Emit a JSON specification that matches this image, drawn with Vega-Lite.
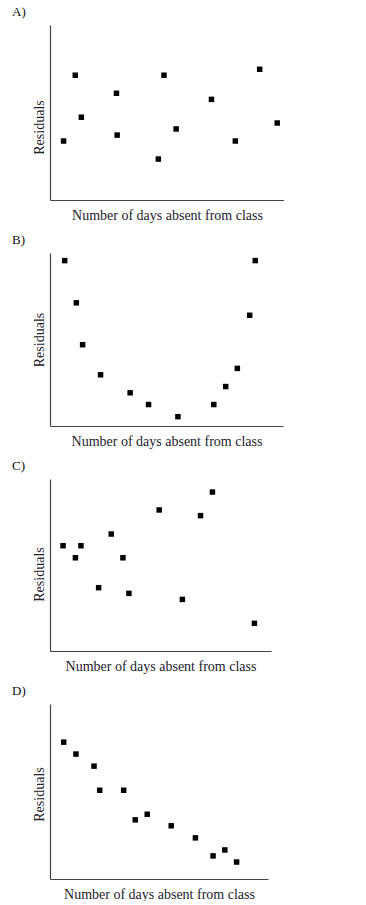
{
  "$schema": "https://vega.github.io/schema/vega-lite/v6.json",
  "padding": {"left": 12, "top": 6, "right": 0, "bottom": 0},
  "background": "white",
  "datasets": {
    "A": [{"x":5.8,"y":33.7},{"x":10.8,"y":71.3},{"x":13.4,"y":47.3},{"x":28.4,"y":61},{"x":28.7,"y":37.1},{"x":46.3,"y":23.4},{"x":48.7,"y":71.3},{"x":53.9,"y":40.6},{"x":69,"y":57.5},{"x":79.2,"y":33.7},{"x":89.6,"y":74.7},{"x":97.1,"y":44}],
    "B": [{"x":6.3,"y":95.6},{"x":11.3,"y":71.2},{"x":14,"y":47},{"x":21.7,"y":29.6},{"x":34.4,"y":19.2},{"x":42.3,"y":12.4},{"x":54.9,"y":5.4},{"x":70.3,"y":12.4},{"x":75.4,"y":22.8},{"x":80.4,"y":33.3},{"x":85.7,"y":64},{"x":88.1,"y":95.6}],
    "C": [{"x":5.9,"y":61.2},{"x":11.5,"y":54.2},{"x":14,"y":61.2},{"x":22,"y":36.8},{"x":27.7,"y":68},{"x":33,"y":54.2},{"x":35.7,"y":33.5},{"x":49.4,"y":82},{"x":59.9,"y":30},{"x":68.1,"y":78.7},{"x":73.5,"y":92.4},{"x":92.5,"y":16.1}],
    "D": [{"x":6.3,"y":78.2},{"x":11.9,"y":71.4},{"x":20.2,"y":64.5},{"x":22.8,"y":50.7},{"x":33.8,"y":50.7},{"x":39.1,"y":33.8},{"x":44.6,"y":37},{"x":55.6,"y":30.4},{"x":66.7,"y":23.5},{"x":74.8,"y":13.2},{"x":80.2,"y":16.6},{"x":85.6,"y":9.7}]
  },
  "vconcat": [
    {
      "data": {"name": "A"},
      "width": 234, "height": 175,
      "title": {"text": "A)", "anchor": "start", "frame": "group", "dx": -38, "offset": 6},
      "mark": {"type": "point", "shape": "square", "filled": true, "color": "black", "size": 30, "opacity": 1},
      "encoding": {
        "x": {"field": "x", "type": "quantitative", "scale": {"domain": [0, 100], "nice": false, "zero": false}, "axis": {"title": "Number of days absent from class"}},
        "y": {"field": "y", "type": "quantitative", "scale": {"domain": [0, 100], "nice": false, "zero": false}, "axis": {"title": "Residuals", "titleY": 102}}
      }
    },
    {
      "data": {"name": "B"},
      "width": 233, "height": 173,
      "title": {"text": "B)", "anchor": "start", "frame": "group", "dx": -38, "offset": 6},
      "mark": {"type": "point", "shape": "square", "filled": true, "color": "black", "size": 30, "opacity": 1},
      "encoding": {
        "x": {"field": "x", "type": "quantitative", "scale": {"domain": [0, 100], "nice": false, "zero": false}, "axis": {"title": "Number of days absent from class"}},
        "y": {"field": "y", "type": "quantitative", "scale": {"domain": [0, 100], "nice": false, "zero": false}, "axis": {"title": "Residuals"}}
      }
    },
    {
      "data": {"name": "C"},
      "width": 221, "height": 172,
      "title": {"text": "C)", "anchor": "start", "frame": "group", "dx": -38, "offset": 6},
      "mark": {"type": "point", "shape": "square", "filled": true, "color": "black", "size": 30, "opacity": 1},
      "encoding": {
        "x": {"field": "x", "type": "quantitative", "scale": {"domain": [0, 100], "nice": false, "zero": false}, "axis": {"title": "Number of days absent from class"}},
        "y": {"field": "y", "type": "quantitative", "scale": {"domain": [0, 100], "nice": false, "zero": false}, "axis": {"title": "Residuals", "titleY": 95}}
      }
    },
    {
      "data": {"name": "D"},
      "width": 218, "height": 175,
      "title": {"text": "D)", "anchor": "start", "frame": "group", "dx": -38, "offset": 6},
      "mark": {"type": "point", "shape": "square", "filled": true, "color": "black", "size": 30, "opacity": 1},
      "encoding": {
        "x": {"field": "x", "type": "quantitative", "scale": {"domain": [0, 100], "nice": false, "zero": false}, "axis": {"title": "Number of days absent from class"}},
        "y": {"field": "y", "type": "quantitative", "scale": {"domain": [0, 100], "nice": false, "zero": false}, "axis": {"title": "Residuals", "titleY": 90}}
      }
    }
  ],
  "config": {
    "view": {"stroke": null},
    "concat": {"spacing": 12},
    "axis": {"grid": false, "ticks": false, "labels": false, "domainColor": "#444", "domainWidth": 1.2, "titleFont": "Liberation Serif", "titleFontSize": 14, "titleFontWeight": "normal", "titleColor": "#22222a"},
    "axisX": {"titlePadding": 8},
    "axisY": {"titlePadding": 4},
    "title": {"font": "Liberation Serif", "fontSize": 13, "fontWeight": "normal", "color": "#111"}
  }
}
